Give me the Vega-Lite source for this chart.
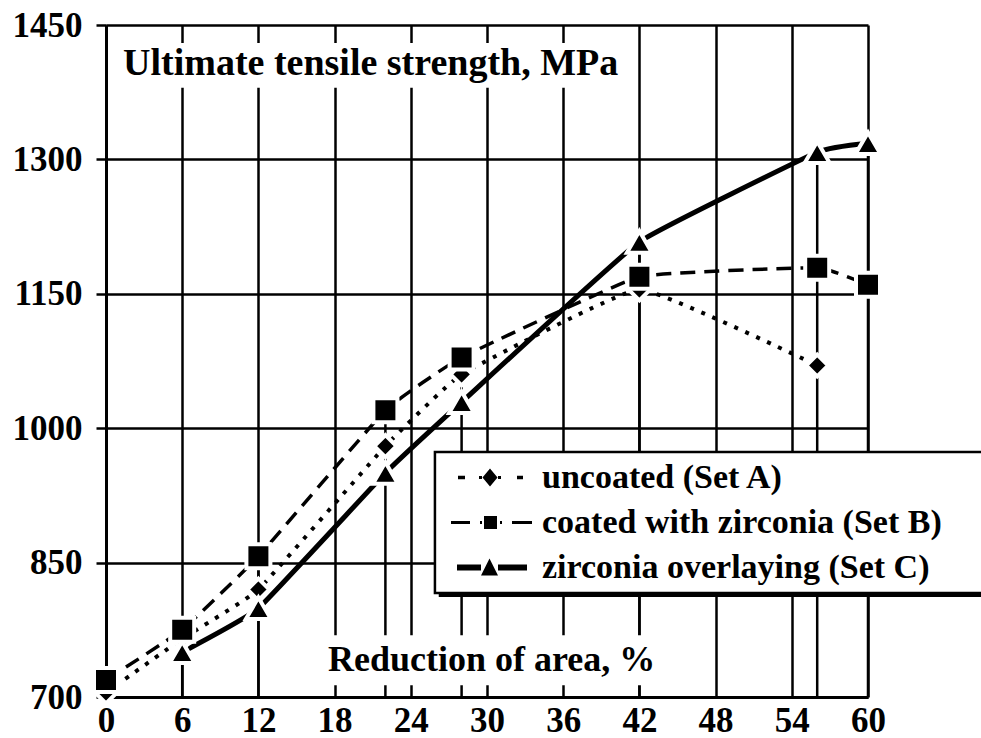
{
  "$schema": "https://vega.github.io/schema/vega-lite/v6.json",
  "width": 762,
  "height": 672,
  "autosize": {"type": "none"},
  "padding": {"left": 106, "top": 25, "right": 113, "bottom": 41},
  "background": "white",
  "config": {
    "view": {"stroke": null},
    "font": "Liberation Serif",
    "axis": {
      "gridColor": "black", "gridOpacity": 1, "gridWidth": 2.5,
      "domainColor": "black", "domainWidth": 3,
      "tickColor": "black", "tickWidth": 2.5,
      "labelFont": "Liberation Serif", "labelFontWeight": "bold", "labelFontSize": 35, "labelColor": "black",
      "labelFlush": false, "labelOverlap": false,
      "title": null
    }
  },
  "datasets": {
    "pts": [
      {"x": 0, "v": 705, "s": "uncoated (Set A)"},
      {"x": 6, "v": 765, "s": "uncoated (Set A)"},
      {"x": 12, "v": 820, "s": "uncoated (Set A)"},
      {"x": 22, "v": 980, "s": "uncoated (Set A)"},
      {"x": 28, "v": 1060, "s": "uncoated (Set A)"},
      {"x": 42, "v": 1155, "s": "uncoated (Set A)"},
      {"x": 56, "v": 1070, "s": "uncoated (Set A)"},
      {"x": 0, "v": 719, "s": "coated with zirconia (Set B)"},
      {"x": 6, "v": 775, "s": "coated with zirconia (Set B)"},
      {"x": 12, "v": 857, "s": "coated with zirconia (Set B)"},
      {"x": 22, "v": 1020, "s": "coated with zirconia (Set B)"},
      {"x": 28, "v": 1079, "s": "coated with zirconia (Set B)"},
      {"x": 42, "v": 1169, "s": "coated with zirconia (Set B)"},
      {"x": 56, "v": 1179, "s": "coated with zirconia (Set B)"},
      {"x": 60, "v": 1160, "s": "coated with zirconia (Set B)"},
      {"x": 6, "v": 750, "s": "zirconia overlaying (Set C)"},
      {"x": 12, "v": 799, "s": "zirconia overlaying (Set C)"},
      {"x": 22, "v": 950, "s": "zirconia overlaying (Set C)"},
      {"x": 28, "v": 1029, "s": "zirconia overlaying (Set C)"},
      {"x": 42, "v": 1208, "s": "zirconia overlaying (Set C)"},
      {"x": 56, "v": 1308, "s": "zirconia overlaying (Set C)"},
      {"x": 60, "v": 1318, "s": "zirconia overlaying (Set C)"}
    ]
  },
  "encoding": {
    "x": {"type": "quantitative", "scale": {"domain": [0, 60], "nice": false, "zero": false},
      "axis": {"values": [0, 6, 12, 18, 24, 30, 36, 42, 48, 54, 60], "grid": true, "ticks": false, "labelPadding": 6, "format": "d"}},
    "y": {"type": "quantitative", "scale": {"domain": [700, 1450], "nice": false, "zero": false},
      "axis": {"values": [700, 850, 1000, 1150, 1300, 1450], "grid": true, "ticks": true, "tickSize": 10, "labelPadding": 14, "format": "d"}}
  },
  "layer": [
    {
      "data": {"name": "pts"},
      "mark": {"type": "rule", "color": "black", "strokeWidth": 2.5},
      "encoding": {
        "x": {"field": "x", "type": "quantitative"},
        "y": {"aggregate": "max", "field": "v", "type": "quantitative"},
        "y2": {"datum": 700}
      }
    },
    {
      "data": {"values": [{"k": "title"}]},
      "mark": {"type": "rect", "fill": "white"},
      "encoding": {"x": {"datum": 0.3}, "x2": {"datum": 40.8}, "y": {"datum": 1380}, "y2": {"datum": 1430}}
    },
    {
      "data": {"values": [{"k": "xlabel"}]},
      "mark": {"type": "rect", "fill": "white"},
      "encoding": {"x": {"datum": 16.9}, "x2": {"datum": 43.6}, "y": {"datum": 713}, "y2": {"datum": 769}}
    },
    {
      "data": {"values": [{"t": "Ultimate tensile strength, MPa"}]},
      "mark": {"type": "text", "font": "Liberation Serif", "fontWeight": "bold", "fontSize": 38, "align": "left", "baseline": "middle", "color": "black"},
      "encoding": {"x": {"datum": 1.34}, "y": {"datum": 1406}, "text": {"field": "t"}}
    },
    {
      "data": {"values": [{"t": "Reduction of area, %"}]},
      "mark": {"type": "text", "font": "Liberation Serif", "fontWeight": "bold", "fontSize": 36, "align": "left", "baseline": "middle", "color": "black"},
      "encoding": {"x": {"datum": 17.48}, "y": {"datum": 741}, "text": {"field": "t"}}
    },
    {
      "data": {"name": "pts"},
      "transform": [{"filter": {"field": "s", "equal": "uncoated (Set A)"}}],
      "mark": {"type": "line", "interpolate": "cardinal", "tension": 0.7, "color": "black", "strokeWidth": 4, "strokeDash": [4, 8]},
      "encoding": {"x": {"field": "x", "type": "quantitative"}, "y": {"field": "v", "type": "quantitative"}}
    },
    {
      "data": {"name": "pts"},
      "transform": [{"filter": {"field": "s", "equal": "coated with zirconia (Set B)"}}],
      "mark": {"type": "line", "interpolate": "cardinal", "tension": 0.7, "color": "black", "strokeWidth": 3.5, "strokeDash": [15, 9]},
      "encoding": {"x": {"field": "x", "type": "quantitative"}, "y": {"field": "v", "type": "quantitative"}}
    },
    {
      "data": {"name": "pts"},
      "transform": [{"filter": {"field": "s", "equal": "zirconia overlaying (Set C)"}}],
      "mark": {"type": "line", "interpolate": "cardinal", "tension": 0.7, "color": "black", "strokeWidth": 5},
      "encoding": {"x": {"field": "x", "type": "quantitative"}, "y": {"field": "v", "type": "quantitative"}}
    },
    {
      "data": {"name": "pts"},
      "transform": [{"filter": {"field": "s", "equal": "uncoated (Set A)"}}],
      "mark": {"type": "point", "shape": "diamond", "size": 484, "filled": true, "fill": "black", "stroke": "white", "strokeWidth": 4, "opacity": 1},
      "encoding": {"x": {"field": "x", "type": "quantitative"}, "y": {"field": "v", "type": "quantitative"}}
    },
    {
      "data": {"name": "pts"},
      "transform": [{"filter": {"field": "s", "equal": "zirconia overlaying (Set C)"}}],
      "mark": {"type": "point", "shape": "triangle-up", "size": 625, "filled": true, "fill": "black", "stroke": "white", "strokeWidth": 4, "opacity": 1},
      "encoding": {"x": {"field": "x", "type": "quantitative"}, "y": {"field": "v", "type": "quantitative"}}
    },
    {
      "data": {"name": "pts"},
      "transform": [{"filter": {"field": "s", "equal": "coated with zirconia (Set B)"}}],
      "mark": {"type": "point", "shape": "square", "size": 576, "filled": true, "fill": "black", "stroke": "white", "strokeWidth": 4, "opacity": 1},
      "encoding": {"x": {"field": "x", "type": "quantitative"}, "y": {"field": "v", "type": "quantitative"}}
    },
    {
      "data": {"values": [{"k": "legend shadow"}]},
      "mark": {"type": "rect", "fill": "black"},
      "encoding": {"x": {"datum": 26.2}, "x2": {"datum": 80}, "y": {"datum": 811.6}, "y2": {"datum": 969}}
    },
    {
      "data": {"values": [{"k": "legend box"}]},
      "mark": {"type": "rect", "fill": "white", "stroke": "black", "strokeWidth": 2.5},
      "encoding": {"x": {"datum": 25.9}, "x2": {"datum": 80}, "y": {"datum": 816}, "y2": {"datum": 973.4}}
    },
    {
      "data": {"name": "pts"},
      "mark": {"type": "point", "filled": true, "color": "black", "opacity": 0},
      "encoding": {
        "x": {"field": "x", "type": "quantitative"},
        "y": {"field": "v", "type": "quantitative"},
        "shape": {
          "field": "s", "type": "nominal",
          "scale": {
            "domain": ["uncoated (Set A)", "coated with zirconia (Set B)", "zirconia overlaying (Set C)"],
            "range": [
              "M-0.6,-0.035L-0.46,-0.035L-0.46,0.035L-0.6,0.035Z M-0.18,-0.03L-0.12,-0.03L-0.12,0.03L-0.18,0.03Z M-0.11,0L0.04,-0.18L0.19,0L0.04,0.18Z M0.2,-0.03L0.26,-0.03L0.26,0.03L0.2,0.03Z M0.58,-0.035L0.7,-0.035L0.7,0.035L0.58,0.035Z",
              "M-0.74,-0.03L-0.36,-0.03L-0.36,0.03L-0.74,0.03Z M-0.16,-0.03L-0.12,-0.03L-0.12,0.03L-0.16,0.03Z M-0.08,-0.13L0.18,-0.13L0.18,0.13L-0.08,0.13Z M0.24,-0.03L0.28,-0.03L0.28,0.03L0.24,0.03Z M0.48,-0.03L0.88,-0.03L0.88,0.03L0.48,0.03Z",
              "M-0.62,-0.06L-0.14,-0.06L-0.14,0.06L-0.62,0.06Z M-0.14,0.16L0.03,-0.18L0.2,0.16Z M0.2,-0.06L0.78,-0.06L0.78,0.06L0.2,0.06Z"
            ]
          },
          "legend": {
            "title": null, "orient": "none", "legendX": 329, "legendY": 427,
            "padding": 3,
            "clipHeight": 45, "rowPadding": 0,
            "symbolSize": 10000, "symbolFillColor": "black", "symbolStrokeColor": "black", "symbolStrokeWidth": 0, "symbolOpacity": 1,
            "labelFont": "Liberation Serif", "labelFontWeight": "bold", "labelFontSize": 34, "labelColor": "black",
            "labelOffset": 4, "labelLimit": 0
          }
        }
      }
    }
  ]
}
